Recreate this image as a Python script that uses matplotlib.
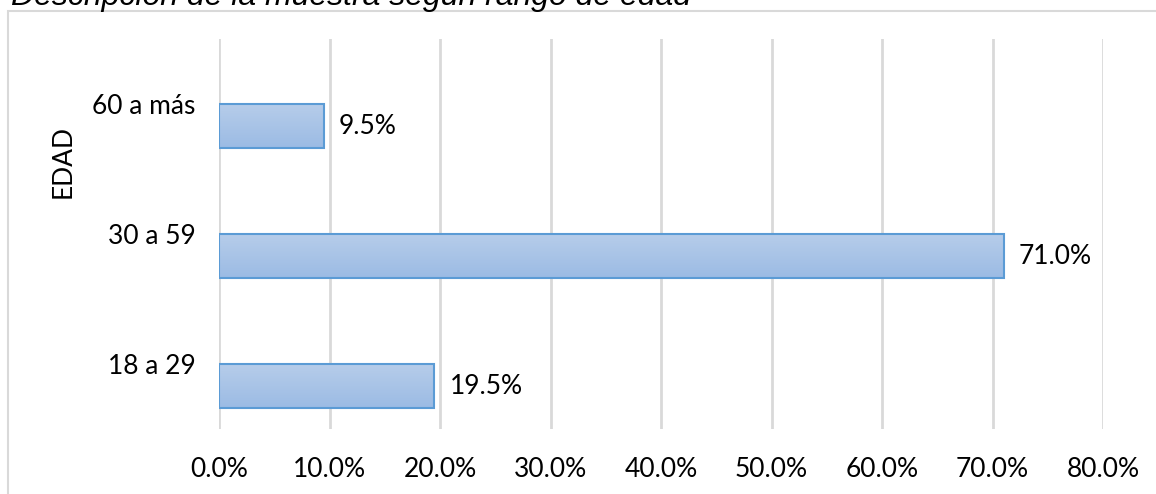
import matplotlib
matplotlib.use("Agg")
import matplotlib.pyplot as plt
import matplotlib.transforms as mtrans
import numpy as np
from matplotlib.patches import Rectangle
from matplotlib.colors import LinearSegmentedColormap

categories = ["18 a 29", "30 a 59", "60 a más"]
values = [19.5, 71.0, 9.5]
xticks = [0, 10, 20, 30, 40, 50, 60, 70, 80]
title = "Descripción de la muestra según rango de edad"
ylabel = "EDAD"

plt.rcParams['font.family'] = ['Lato', 'DejaVu Sans']
FS = 19

W, H = 1156, 494
fig = plt.figure(figsize=(W / 100, H / 100), dpi=100)
ax = fig.add_axes([219 / W, 1 - 429 / H, (1103 - 219) / W, (429 - 39) / H])

pos = np.arange(len(categories))
bar_h = 0.34
offset = -bar_h / 2  # bar sits just below the category centre

ax.set_xlim(0, 80)
ax.set_ylim(-0.5, len(categories) - 0.5)

grad = np.linspace(0, 1, 256).reshape(-1, 1)
cmap = LinearSegmentedColormap.from_list("g", ["#9bbbe4", "#b7cdea"])

bars = ax.barh(pos + offset, values, height=bar_h, color="none",
               edgecolor="#5b9bd5", linewidth=1.5, zorder=3)
shift = ax.transData + mtrans.ScaledTranslation(15 / 100, 0, fig.dpi_scale_trans)
for b in bars:
    x0, y0 = b.get_x(), b.get_y()
    w, h = b.get_width(), b.get_height()
    im = ax.imshow(grad, extent=[x0, x0 + w, y0, y0 + h], aspect="auto",
                   cmap=cmap, origin="lower", zorder=2)
    im.set_clip_path(b)
    ax.text(x0 + w, y0 + h / 2, f"{w:.1f}%", va="center", ha="left",
            fontsize=FS, color="#000000", transform=shift)

ax.set_xlim(0, 80)
ax.set_ylim(-0.5, len(categories) - 0.5)
ax.set_xticks(xticks)
ax.set_xticklabels([f"{v:.1f}%" for v in xticks], fontsize=FS)
ax.set_yticks(pos)
ax.set_yticklabels(categories, fontsize=FS)
ax.tick_params(axis="x", length=0, pad=20)
ax.tick_params(axis="y", length=0, pad=17)
ax.grid(axis="x", color="#d9d9d9", linewidth=2, zorder=0)
ax.set_axisbelow(True)
for s in ax.spines.values():
    s.set_visible(False)

fig.text(63 / W, 1 - 162 / H, ylabel, rotation=90, ha="center", va="center",
         fontsize=FS)

# outer chart border
fig.patches.append(Rectangle((8 / W, -0.1), 1.2, 1 - 11 / H + 0.1,
                             transform=fig.transFigure, fill=False,
                             edgecolor="#d9d9d9", linewidth=1.5))

fig.text(11 / W, 1 - 5 / H, title, ha="left", va="baseline", fontsize=23,
         style="italic", family=["Liberation Sans", "DejaVu Sans"])

fig.savefig("out.png", dpi=100)
